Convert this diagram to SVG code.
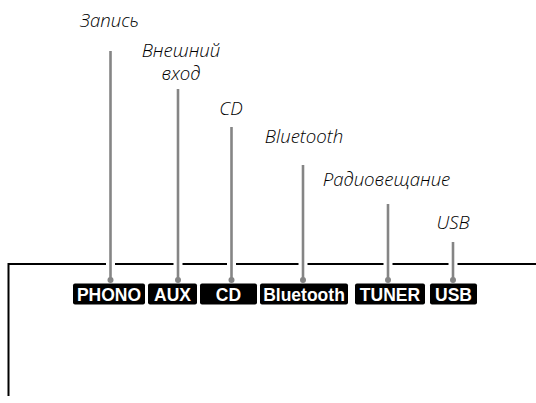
<svg xmlns="http://www.w3.org/2000/svg" width="536" height="403" viewBox="0 0 536 403">
<style>
.cap{font-family:"Open Sans","Liberation Sans",sans-serif;font-style:italic;font-weight:300;font-size:18.6px;fill:#000;text-anchor:middle}
.box{fill:#000}
.lbl{font-family:"Liberation Sans",Arial,sans-serif;font-weight:bold;font-size:17.5px;fill:#fff;text-anchor:middle}
.lead{stroke:#858585;stroke-width:2.6;fill:none}
.halo{stroke:#fff;stroke-width:9;fill:none}
.dot{fill:#858585}
.frame{stroke:#000;stroke-width:2;fill:none}
</style>
<rect width="536" height="403" fill="#fff"/>
<g id="frame">
<path class="frame" d="M536,264 H8.5 V396"/>
</g>
<g id="connectors">
<line class="halo" x1="110.5" y1="258" x2="110.5" y2="270"/>
<line class="halo" x1="178" y1="258" x2="178" y2="270"/>
<line class="halo" x1="231.5" y1="258" x2="231.5" y2="270"/>
<line class="halo" x1="303" y1="258" x2="303" y2="270"/>
<line class="halo" x1="388" y1="258" x2="388" y2="270"/>
<line class="halo" x1="453" y1="258" x2="453" y2="270"/>
<line class="lead" x1="110.5" y1="51" x2="110.5" y2="280"/>
<line class="lead" x1="178" y1="89" x2="178" y2="280"/>
<line class="lead" x1="231.5" y1="127" x2="231.5" y2="280"/>
<line class="lead" x1="303" y1="165" x2="303" y2="280"/>
<line class="lead" x1="388" y1="204" x2="388" y2="280"/>
<line class="lead" x1="453" y1="242" x2="453" y2="280"/>
<circle class="dot" cx="110.5" cy="280" r="3"/>
<circle class="dot" cx="178" cy="280" r="3"/>
<circle class="dot" cx="231.5" cy="280" r="3"/>
<circle class="dot" cx="303" cy="280" r="3"/>
<circle class="dot" cx="388" cy="280" r="3"/>
<circle class="dot" cx="453" cy="280" r="3"/>
</g>
<g id="phono">
<text class="cap" x="109.5" y="26.5">Запись</text>
<rect class="box" x="73" y="283.5" width="72" height="21" rx="2"/>
<text class="lbl" x="109" y="300.8">PHONO</text>
</g>
<g id="aux">
<text class="cap" x="181" y="57">Внешний</text>
<text class="cap" x="181" y="80">вход</text>
<rect class="box" x="148" y="283.5" width="49" height="21" rx="2"/>
<text class="lbl" x="172.5" y="300.8">AUX</text>
</g>
<g id="cd">
<text class="cap" x="231" y="115">CD</text>
<rect class="box" x="200" y="283.5" width="57" height="21" rx="2"/>
<text class="lbl" x="228.5" y="300.8">CD</text>
</g>
<g id="bluetooth">
<text class="cap" x="304" y="143">Bluetooth</text>
<rect class="box" x="260" y="283.5" width="88" height="21" rx="2"/>
<text class="lbl" x="304" y="300.8">Bluetooth</text>
</g>
<g id="tuner">
<text class="cap" x="386.5" y="186">Радиовещание</text>
<rect class="box" x="355" y="283.5" width="70" height="21" rx="2"/>
<text class="lbl" x="390" y="300.8">TUNER</text>
</g>
<g id="usb">
<text class="cap" x="453" y="229">USB</text>
<rect class="box" x="430" y="283.5" width="47" height="21" rx="2"/>
<text class="lbl" x="453.5" y="300.8">USB</text>
</g>
</svg>
